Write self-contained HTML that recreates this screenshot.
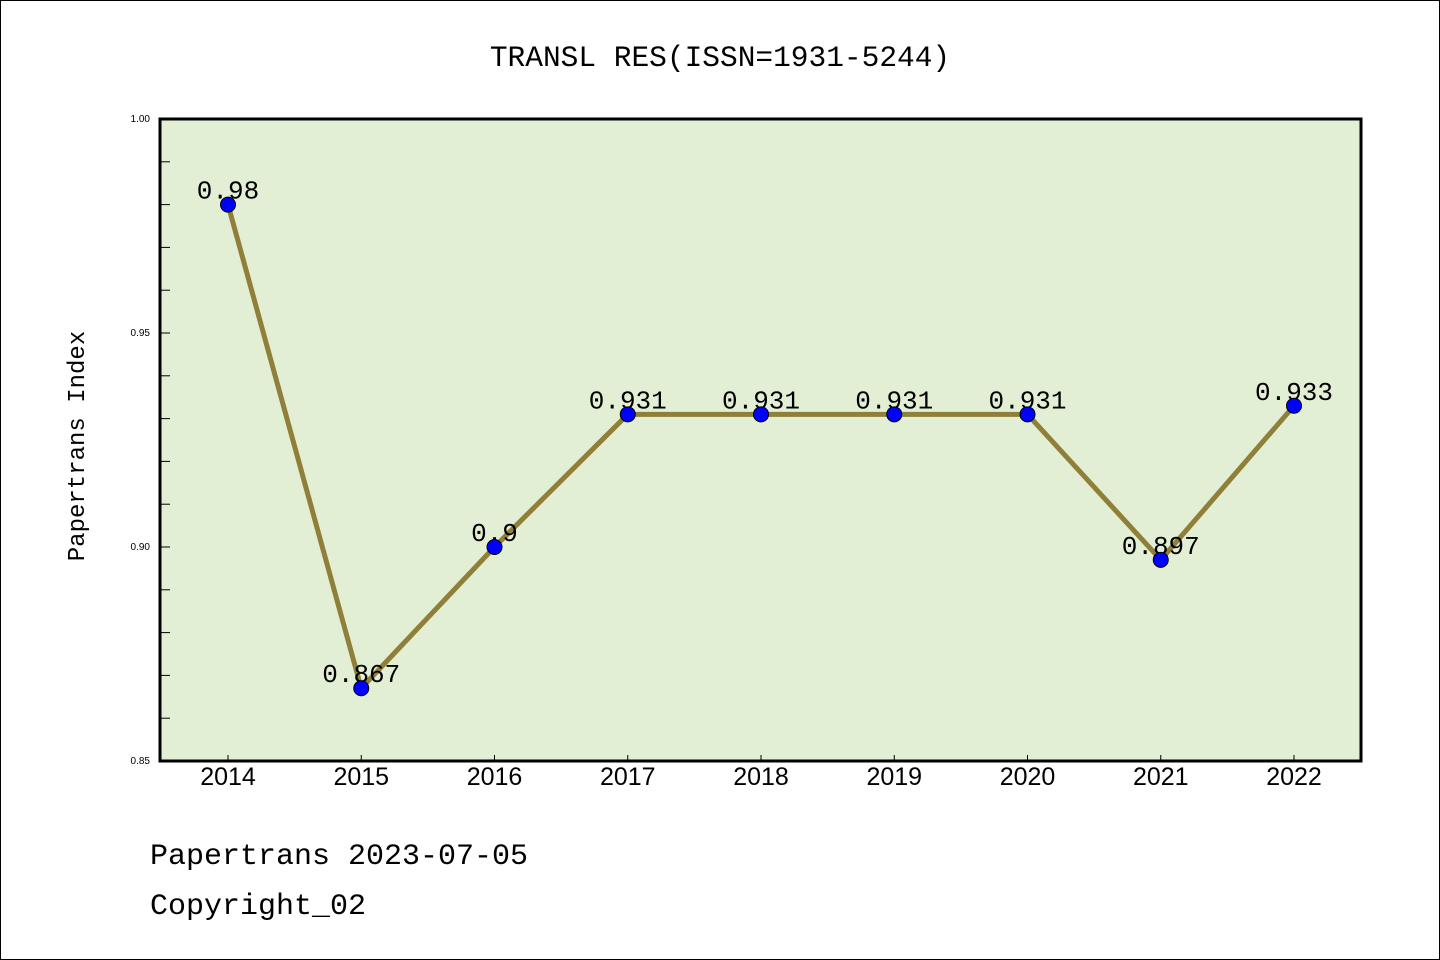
<!DOCTYPE html>
<html><head><meta charset="utf-8"><style>
html,body{margin:0;padding:0;background:#fff}
svg{display:block}
</style></head><body>
<svg width="1440" height="960" xmlns="http://www.w3.org/2000/svg">
<rect x="0.5" y="0.5" width="1439" height="959" fill="#fff" stroke="#000"/>
<text x="720" y="66" text-anchor="middle" font-family="Liberation Mono, monospace" font-size="29.5">TRANSL RES(ISSN=1931-5244)</text>
<rect x="160" y="119" width="1201" height="642" fill="#e2efd5"/>
<g id="axes"></g>
<g id="marks"></g>
<rect x="160" y="119" width="1201" height="642" fill="none" stroke="#000" stroke-width="3"/>
<text transform="translate(84,446) rotate(-90)" text-anchor="middle" font-family="Liberation Mono, monospace" font-size="24">Papertrans Index</text>
<text x="150" y="864" font-family="Liberation Mono, monospace" font-size="30">Papertrans 2023-07-05</text>
<text x="150" y="914" font-family="Liberation Mono, monospace" font-size="30">Copyright_02</text>
</svg>
<script>
const years = ["2014","2015","2016","2017","2018","2019","2020","2021","2022"];
const values = [0.98,0.867,0.9,0.931,0.931,0.931,0.931,0.897,0.933];
const valueLabels = ["0.98","0.867","0.9","0.931","0.931","0.931","0.931","0.897","0.933"];
const yTicks = [0.85,0.90,0.95,1.00];
const yTickLabels = ["0.85","0.90","0.95","1.00"];
const ns="http://www.w3.org/2000/svg";
const X0=228, XSTEP=133.25, YTOP=119, YBOT=761, YMIN=0.85, YMAX=1.0;
const xs=i=>X0+i*XSTEP;
const ys=v=>YBOT-(v-YMIN)/(YMAX-YMIN)*(YBOT-YTOP);
const axes=document.getElementById('axes'), marks=document.getElementById('marks');
function mk(tag,attrs,parent){const e=document.createElementNS(ns,tag);for(const k in attrs)e.setAttribute(k,attrs[k]);parent.appendChild(e);return e;}
for(let k=0;k<=15;k++){const v=YMIN+k*0.01;const y=ys(v);
 const t=mk('line',{x1:160,x2:170,y1:y,y2:y,stroke:'#000','stroke-width':1},axes);
 
 }
yTicks.forEach((v,i)=>{const t=mk('text',{x:150,y:ys(v)+3,'text-anchor':'end','font-family':'Liberation Sans, sans-serif','font-size':10},axes);t.textContent=yTickLabels[i];
 
 });
years.forEach((yr,i)=>{const x=xs(i);
 const t=mk('line',{x1:x,x2:x,y1:761,y2:755,stroke:'#000','stroke-width':1},axes);
 
 
 const l=mk('text',{x:x,y:785,'text-anchor':'middle','font-family':'Liberation Sans, sans-serif','font-size':25},axes);l.textContent=yr;
 
 });
const pts=values.map((v,i)=>xs(i)+','+ys(v)).join(' ');
const line=mk('polyline',{points:pts,fill:'none',stroke:'#8f7f38','stroke-width':5,'stroke-linejoin':'round'},marks);


values.forEach((v,i)=>{const t=mk('text',{x:xs(i),y:ys(v)-6,'text-anchor':'middle','font-family':'Liberation Mono, monospace','font-size':26},marks);t.textContent=valueLabels[i];
 
 });
values.forEach((v,i)=>{const c=mk('circle',{cx:xs(i),cy:ys(v),r:7.5,fill:'#0000ff',stroke:'#000','stroke-width':1},marks);
 
 });
</script>
</body></html>
